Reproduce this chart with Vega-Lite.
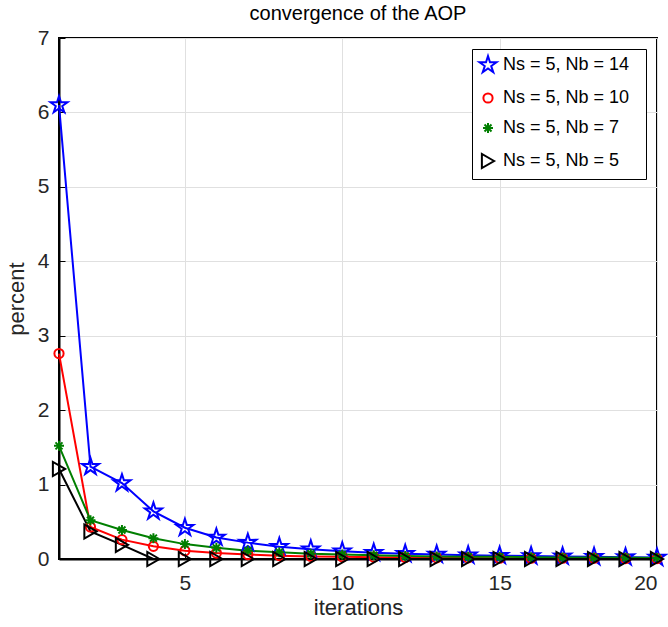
{
  "$schema": "https://vega.github.io/schema/vega-lite/v6.json",
  "width": 598,
  "height": 521,
  "autosize": "none",
  "padding": {"left": 59, "top": 38, "right": 11, "bottom": 68},
  "background": "white",
  "config": {
    "font": "Liberation Sans",
    "view": {"stroke": "black", "strokeWidth": 2},
    "axis": {
      "domainColor": "black", "domainWidth": 2,
      "gridColor": "#e0e0e0", "gridWidth": 1,
      "tickColor": "black", "tickSize": -6, "tickWidth": 1,
      "labelColor": "#262626", "labelFontSize": 21, "labelFont": "Liberation Sans",
      "titleColor": "#262626", "titleFontSize": 22, "titleFontWeight": "normal", "titleFont": "Liberation Sans"
    }
  },
  "title": {"text": "convergence of the AOP", "fontSize": 20, "fontWeight": "normal", "color": "#000000", "font": "Liberation Sans", "offset": 3, "anchor": "middle"},
  "data": {"values": [
    {"it":1,"s":"Ns  = 5, Nb  = 14","v":6.1},{"it":2,"s":"Ns  = 5, Nb  = 14","v":1.24},{"it":3,"s":"Ns  = 5, Nb  = 14","v":1.02},{"it":4,"s":"Ns  = 5, Nb  = 14","v":0.64},{"it":5,"s":"Ns  = 5, Nb  = 14","v":0.42},{"it":6,"s":"Ns  = 5, Nb  = 14","v":0.29},{"it":7,"s":"Ns  = 5, Nb  = 14","v":0.22},{"it":8,"s":"Ns  = 5, Nb  = 14","v":0.165},{"it":9,"s":"Ns  = 5, Nb  = 14","v":0.13},{"it":10,"s":"Ns  = 5, Nb  = 14","v":0.105},{"it":11,"s":"Ns  = 5, Nb  = 14","v":0.085},{"it":12,"s":"Ns  = 5, Nb  = 14","v":0.07},{"it":13,"s":"Ns  = 5, Nb  = 14","v":0.06},{"it":14,"s":"Ns  = 5, Nb  = 14","v":0.05},{"it":15,"s":"Ns  = 5, Nb  = 14","v":0.045},{"it":16,"s":"Ns  = 5, Nb  = 14","v":0.04},{"it":17,"s":"Ns  = 5, Nb  = 14","v":0.035},{"it":18,"s":"Ns  = 5, Nb  = 14","v":0.03},{"it":19,"s":"Ns  = 5, Nb  = 14","v":0.025},{"it":20,"s":"Ns  = 5, Nb  = 14","v":0.02},
    {"it":1,"s":"Ns  = 5, Nb  = 10","v":2.76},{"it":2,"s":"Ns  = 5, Nb  = 10","v":0.43},{"it":3,"s":"Ns  = 5, Nb  = 10","v":0.26},{"it":4,"s":"Ns  = 5, Nb  = 10","v":0.17},{"it":5,"s":"Ns  = 5, Nb  = 10","v":0.11},{"it":6,"s":"Ns  = 5, Nb  = 10","v":0.08},{"it":7,"s":"Ns  = 5, Nb  = 10","v":0.06},{"it":8,"s":"Ns  = 5, Nb  = 10","v":0.045},{"it":9,"s":"Ns  = 5, Nb  = 10","v":0.035},{"it":10,"s":"Ns  = 5, Nb  = 10","v":0.03},{"it":11,"s":"Ns  = 5, Nb  = 10","v":0.025},{"it":12,"s":"Ns  = 5, Nb  = 10","v":0.02},{"it":13,"s":"Ns  = 5, Nb  = 10","v":0.015},{"it":14,"s":"Ns  = 5, Nb  = 10","v":0.015},{"it":15,"s":"Ns  = 5, Nb  = 10","v":0.01},{"it":16,"s":"Ns  = 5, Nb  = 10","v":0.01},{"it":17,"s":"Ns  = 5, Nb  = 10","v":0.01},{"it":18,"s":"Ns  = 5, Nb  = 10","v":0.01},{"it":19,"s":"Ns  = 5, Nb  = 10","v":0.005},{"it":20,"s":"Ns  = 5, Nb  = 10","v":0.005},
    {"it":1,"s":"Ns  = 5, Nb  = 7","v":1.52},{"it":2,"s":"Ns  = 5, Nb  = 7","v":0.52},{"it":3,"s":"Ns  = 5, Nb  = 7","v":0.39},{"it":4,"s":"Ns  = 5, Nb  = 7","v":0.28},{"it":5,"s":"Ns  = 5, Nb  = 7","v":0.2},{"it":6,"s":"Ns  = 5, Nb  = 7","v":0.15},{"it":7,"s":"Ns  = 5, Nb  = 7","v":0.11},{"it":8,"s":"Ns  = 5, Nb  = 7","v":0.09},{"it":9,"s":"Ns  = 5, Nb  = 7","v":0.07},{"it":10,"s":"Ns  = 5, Nb  = 7","v":0.06},{"it":11,"s":"Ns  = 5, Nb  = 7","v":0.05},{"it":12,"s":"Ns  = 5, Nb  = 7","v":0.04},{"it":13,"s":"Ns  = 5, Nb  = 7","v":0.035},{"it":14,"s":"Ns  = 5, Nb  = 7","v":0.03},{"it":15,"s":"Ns  = 5, Nb  = 7","v":0.03},{"it":16,"s":"Ns  = 5, Nb  = 7","v":0.025},{"it":17,"s":"Ns  = 5, Nb  = 7","v":0.02},{"it":18,"s":"Ns  = 5, Nb  = 7","v":0.02},{"it":19,"s":"Ns  = 5, Nb  = 7","v":0.02},{"it":20,"s":"Ns  = 5, Nb  = 7","v":0.015},
    {"it":1,"s":"Ns  = 5, Nb  = 5","v":1.21},{"it":2,"s":"Ns  = 5, Nb  = 5","v":0.37},{"it":3,"s":"Ns  = 5, Nb  = 5","v":0.19},{"it":4,"s":"Ns  = 5, Nb  = 5","v":0},{"it":5,"s":"Ns  = 5, Nb  = 5","v":0},{"it":6,"s":"Ns  = 5, Nb  = 5","v":0},{"it":7,"s":"Ns  = 5, Nb  = 5","v":0},{"it":8,"s":"Ns  = 5, Nb  = 5","v":0},{"it":9,"s":"Ns  = 5, Nb  = 5","v":0},{"it":10,"s":"Ns  = 5, Nb  = 5","v":0},{"it":11,"s":"Ns  = 5, Nb  = 5","v":0},{"it":12,"s":"Ns  = 5, Nb  = 5","v":0},{"it":13,"s":"Ns  = 5, Nb  = 5","v":0},{"it":14,"s":"Ns  = 5, Nb  = 5","v":0},{"it":15,"s":"Ns  = 5, Nb  = 5","v":0},{"it":16,"s":"Ns  = 5, Nb  = 5","v":0},{"it":17,"s":"Ns  = 5, Nb  = 5","v":0},{"it":18,"s":"Ns  = 5, Nb  = 5","v":0},{"it":19,"s":"Ns  = 5, Nb  = 5","v":0},{"it":20,"s":"Ns  = 5, Nb  = 5","v":0}
  ]},
  "encoding": {
    "x": {"field": "it", "type": "quantitative", "scale": {"domain": [1, 20], "nice": false, "zero": false},
          "axis": {"title": "iterations", "values": [5, 10, 15, 20], "labelPadding": 19, "titlePadding": 4}},
    "y": {"field": "v", "type": "quantitative", "scale": {"domain": [0, 7], "nice": false},
          "axis": {"title": "percent", "values": [0,1,2,3,4,5,6,7], "labelPadding": 16, "titlePadding": 9}},
    "color": {"field": "s", "type": "nominal",
      "scale": {"domain": ["Ns  = 5, Nb  = 14","Ns  = 5, Nb  = 10","Ns  = 5, Nb  = 7","Ns  = 5, Nb  = 5"], "range": ["#0000ff","#ff0000","#007f00","#000000"]},
      "legend": {"title": null, "orient": "top-right", "offset": 11, "strokeColor": "black", "fillColor": "white", "padding": 6,
                 "labelFontSize": 18, "labelColor": "#000000", "labelFont": "Liberation Sans", "labelOffset": 5,
                 "symbolSize": 289, "symbolStrokeWidth": 2, "rowPadding": 12, "symbolFillColor": "transparent",
                 "encode": {"symbols": {"update": {
                   "size": {"value": 289},
                   "shape": {"signal": "datum.value == 'Ns  = 5, Nb  = 14' ? 'M-1.65,0L1.65,0M0,-1L0.223,-0.307L0.951,-0.309L0.361,0.117L0.588,0.809L0,0.38L-0.588,0.809L-0.361,0.117L-0.951,-0.309L-0.223,-0.307Z' : datum.value == 'Ns  = 5, Nb  = 10' ? 'M-1.65,0L-0.6,0M0.6,0L1.65,0M-0.6,0A0.6,0.6,0,1,0,0.6,0A0.6,0.6,0,1,0,-0.6,0Z' : datum.value == 'Ns  = 5, Nb  = 7' ? 'M-1.65,0L1.65,0M0,-0.6L0,0.6M-0.42,-0.42L0.42,0.42M-0.42,0.42L0.42,-0.42' : 'M-1.65,0L1.65,0M-0.45,-0.75L0.75,0L-0.45,0.75Z'"}
                 }}}}}
  },
  "layer": [
    {"mark": {"type": "line", "strokeWidth": 2}, "encoding": {"order": {"field": "it"}}},
    {"mark": {"type": "point", "filled": false, "strokeWidth": 2, "clip": false, "opacity": 1},
     "encoding": {
       "shape": {"field": "s", "type": "nominal", "legend": null,
         "scale": {"domain": ["Ns  = 5, Nb  = 14","Ns  = 5, Nb  = 10","Ns  = 5, Nb  = 7","Ns  = 5, Nb  = 5"],
                   "range": ["M0,-1L0.223,-0.307L0.951,-0.309L0.361,0.117L0.588,0.809L0,0.38L-0.588,0.809L-0.361,0.117L-0.951,-0.309L-0.223,-0.307Z", "circle", "M0,-1L0,1M-1,0L1,0M-0.7,-0.7L0.7,0.7M-0.7,0.7L0.7,-0.7", "triangle-right"]}},
       "size": {"field": "s", "type": "nominal", "legend": null,
         "scale": {"type": "ordinal", "domain": ["Ns  = 5, Nb  = 14","Ns  = 5, Nb  = 10","Ns  = 5, Nb  = 7","Ns  = 5, Nb  = 5"], "range": [320, 85, 100, 200]}}
     }}
  ]
}
